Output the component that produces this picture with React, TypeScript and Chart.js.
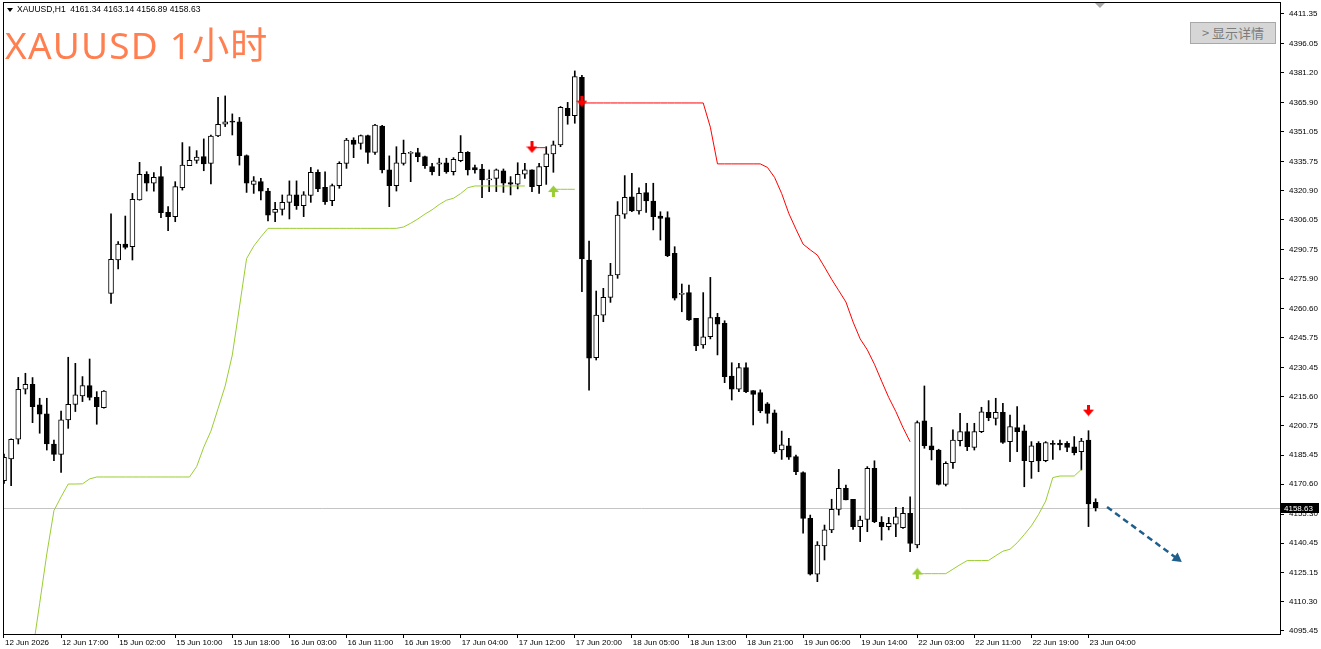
import React, { useEffect, useRef } from "react";
import Chart from "chart.js/auto";

// OHLC values per hourly bar
const opens = [
	4172.4, 4183.5, 4193.6, 4219.2, 4221.7, 4211.2, 4206.6, 4191.2, 4185.9, 4203.5,
	4211.5, 4215.8, 4221.1, 4215.1, 4209.8, 4268.3, 4285.4, 4293.6, 4292.2, 4316.2,
	4329.3, 4324.7, 4328.1, 4309.8, 4307.6, 4322.4, 4333.7, 4336.4, 4338.3, 4334.9,
	4348.9, 4354.9, 4356.2, 4356.2, 4338.8, 4324.1, 4325.5, 4320.7, 4309.8, 4311.3,
	4314.9, 4318.7, 4313.2, 4318.4, 4330.3, 4322.6, 4315.8, 4323.5, 4334.9, 4346.8,
	4345.1, 4349.1, 4340.5, 4354.0, 4331.5, 4323.5, 4334.9, 4340.0, 4340.4, 4338.3,
	4333.2, 4334.4, 4335.2, 4330.6, 4336.3, 4340.5, 4332.7, 4332.0, 4326.4, 4327.2,
	4331.0, 4325.0, 4324.2, 4329.3, 4331.5, 4323.5, 4333.2, 4339.7, 4344.3, 4363.1,
	4359.3, 4378.9, 4285.4, 4235.4, 4257.2, 4266.3, 4277.7, 4308.8, 4317.8, 4310.5,
	4319.9, 4315.6, 4307.9, 4307.1, 4288.8, 4267.8, 4268.7, 4255.5, 4241.9, 4246.1,
	4256.0, 4253.0, 4226.0, 4219.2, 4230.3, 4218.5, 4217.5, 4211.7, 4207.2, 4188.1,
	4190.2, 4184.7, 4176.5, 4153.1, 4124.6, 4139.0, 4147.2, 4157.7, 4168.5, 4162.9,
	4148.9, 4152.6, 4178.7, 4151.1, 4148.9, 4150.2, 4148.3, 4155.7, 4139.5, 4203.0,
	4190.3, 4188.1, 4170.5, 4181.6, 4192.9, 4197.5, 4189.5, 4197.5, 4207.4, 4204.3,
	4207.4, 4192.4, 4199.6, 4197.9, 4182.1, 4191.5, 4182.7, 4191.5, 4191.5, 4191.5,
	4189.8, 4187.3, 4193.2, 4161.34,
];
const highs = [
	4186.0, 4193.8, 4225.3, 4227.4, 4225.2, 4214.6, 4214.6, 4193.2, 4208.1, 4235.6,
	4232.5, 4225.7, 4234.7, 4218.0, 4218.6, 4309.0, 4294.8, 4307.9, 4319.5, 4335.4,
	4330.6, 4330.1, 4333.2, 4312.7, 4325.5, 4345.5, 4343.4, 4341.4, 4347.4, 4349.3,
	4368.7, 4369.4, 4360.2, 4358.4, 4339.2, 4328.1, 4327.2, 4322.1, 4314.9, 4318.7,
	4325.9, 4325.9, 4320.4, 4332.8, 4331.5, 4330.6, 4324.3, 4335.7, 4347.7, 4348.0,
	4349.4, 4349.4, 4354.9, 4354.4, 4338.7, 4343.4, 4346.8, 4340.9, 4342.6, 4338.6,
	4334.9, 4337.5, 4337.5, 4337.8, 4349.1, 4340.9, 4334.0, 4334.4, 4331.5, 4332.0,
	4332.0, 4328.1, 4335.2, 4334.9, 4331.5, 4334.9, 4343.4, 4346.3, 4364.0, 4366.1,
	4382.2, 4380.0, 4295.1, 4269.5, 4270.9, 4283.7, 4315.3, 4328.6, 4329.8, 4322.4,
	4324.7, 4324.7, 4310.1, 4310.1, 4292.2, 4273.1, 4272.6, 4255.5, 4268.7, 4276.5,
	4258.1, 4254.3, 4232.8, 4232.5, 4232.8, 4218.5, 4218.9, 4212.4, 4208.6, 4197.8,
	4194.1, 4185.5, 4177.0, 4154.8, 4141.2, 4149.7, 4162.9, 4178.2, 4170.2, 4162.9,
	4154.3, 4179.6, 4182.6, 4154.0, 4153.6, 4158.8, 4158.8, 4164.2, 4203.0, 4220.9,
	4199.7, 4188.5, 4182.1, 4198.4, 4206.9, 4201.8, 4201.8, 4210.0, 4213.4, 4214.6,
	4212.0, 4206.0, 4210.3, 4200.9, 4192.4, 4192.4, 4192.4, 4192.9, 4193.2, 4192.4,
	4195.0, 4194.1, 4198.0, 4163.14,
];
const lows = [
	4171.0, 4169.9, 4191.2, 4216.8, 4202.1, 4196.7, 4188.1, 4182.7, 4176.7, 4199.2,
	4207.8, 4212.9, 4213.7, 4201.3, 4209.5, 4263.2, 4280.8, 4291.0, 4285.4, 4316.0,
	4320.7, 4320.7, 4307.1, 4300.4, 4305.0, 4321.2, 4333.7, 4334.9, 4331.1, 4324.3,
	4348.5, 4353.7, 4349.4, 4334.0, 4320.0, 4319.5, 4316.1, 4305.4, 4305.0, 4308.4,
	4306.4, 4311.3, 4307.6, 4314.9, 4320.4, 4313.9, 4313.2, 4322.1, 4332.3, 4337.8,
	4342.1, 4334.9, 4339.5, 4330.0, 4312.7, 4320.7, 4334.0, 4325.5, 4335.7, 4332.3,
	4328.9, 4328.6, 4329.8, 4328.9, 4335.7, 4328.9, 4329.8, 4317.3, 4320.4, 4320.4,
	4320.0, 4318.7, 4321.8, 4327.2, 4320.4, 4319.5, 4324.1, 4330.3, 4343.4, 4354.9,
	4355.4, 4269.2, 4218.8, 4234.2, 4253.8, 4263.7, 4276.0, 4306.7, 4310.1, 4308.8,
	4309.8, 4300.8, 4295.6, 4287.1, 4264.9, 4258.9, 4254.4, 4239.0, 4240.2, 4245.0,
	4236.8, 4222.6, 4213.7, 4218.0, 4217.5, 4200.9, 4207.2, 4201.8, 4186.4, 4183.3,
	4183.3, 4175.5, 4145.5, 4124.1, 4120.7, 4131.8, 4145.8, 4154.8, 4162.5, 4147.5,
	4141.2, 4146.3, 4150.9, 4142.0, 4147.2, 4143.7, 4148.0, 4136.1, 4138.0, 4189.0,
	4183.0, 4170.2, 4169.7, 4178.7, 4190.2, 4187.8, 4188.1, 4197.0, 4203.1, 4200.9,
	4191.5, 4182.1, 4187.3, 4169.3, 4173.6, 4177.0, 4182.1, 4183.3, 4188.1, 4187.3,
	4185.6, 4177.9, 4148.9, 4156.89,
];
const closes = [
	4184.4, 4193.6, 4219.2, 4221.7, 4210.3, 4206.4, 4191.2, 4185.9, 4203.5, 4211.5,
	4216.3, 4221.1, 4215.1, 4210.3, 4218.3, 4285.7, 4293.6, 4291.9, 4316.5, 4329.3,
	4324.7, 4327.7, 4309.6, 4307.6, 4323.0, 4334.0, 4336.4, 4338.1, 4334.6, 4348.9,
	4354.9, 4356.2, 4356.0, 4338.8, 4324.7, 4325.9, 4320.7, 4308.4, 4311.3, 4314.9,
	4318.7, 4313.2, 4318.7, 4330.3, 4321.8, 4315.3, 4323.5, 4334.9, 4346.8, 4344.6,
	4349.1, 4340.5, 4354.5, 4331.5, 4323.5, 4335.2, 4340.0, 4340.0, 4338.3, 4333.7,
	4330.6, 4335.2, 4330.6, 4336.9, 4340.5, 4331.5, 4331.5, 4326.4, 4326.4, 4331.5,
	4324.7, 4324.2, 4329.3, 4331.5, 4322.9, 4333.2, 4339.7, 4344.3, 4363.6, 4359.3,
	4379.3, 4285.9, 4235.1, 4257.2, 4266.3, 4277.7, 4308.4, 4317.5, 4310.5, 4319.5,
	4315.6, 4307.6, 4306.7, 4287.6, 4265.8, 4267.8, 4254.7, 4241.4, 4246.1, 4255.9,
	4252.6, 4225.7, 4219.2, 4230.3, 4218.0, 4216.6, 4208.1, 4206.9, 4187.3, 4190.7,
	4184.4, 4177.0, 4153.1, 4124.6, 4139.5, 4147.2, 4157.7, 4168.5, 4162.5, 4148.9,
	4152.3, 4178.7, 4151.4, 4148.9, 4150.6, 4153.9, 4155.7, 4140.3, 4202.1, 4190.3,
	4188.1, 4170.5, 4181.3, 4193.2, 4197.5, 4189.8, 4197.5, 4207.7, 4204.7, 4207.4,
	4192.0, 4200.1, 4197.5, 4182.7, 4190.2, 4182.5, 4191.9, 4191.0, 4190.7, 4189.5,
	4186.7, 4192.7, 4160.5, 4158.63,
];

// time axis: one label every 8 bars
const xTickIdx = [0, 8, 16, 24, 32, 40, 48, 56, 64, 72, 80, 88, 96, 104, 112, 120, 128, 136, 144, 152];
const xTickLabels = [
	"12 Jun 2026", "12 Jun 17:00", "15 Jun 02:00", "15 Jun 10:00", "15 Jun 18:00",
	"16 Jun 03:00", "16 Jun 11:00", "16 Jun 19:00", "17 Jun 04:00", "17 Jun 12:00",
	"17 Jun 20:00", "18 Jun 05:00", "18 Jun 13:00", "18 Jun 21:00", "19 Jun 06:00",
	"19 Jun 14:00", "22 Jun 03:00", "22 Jun 11:00", "22 Jun 19:00", "23 Jun 04:00",
];
const yTickValues = [
	4411.35, 4396.05, 4381.2, 4365.9, 4351.05, 4335.75, 4320.9, 4306.05, 4290.75, 4275.9, 4260.6,
	4245.75, 4230.45, 4215.6, 4200.75, 4185.45, 4170.6, 4155.3, 4140.45, 4125.15, 4110.3, 4095.45,
];

// trailing stop line: green (long) and red (short) pieces, first bar index + values
const greenSegStarts = [4, 77, 128];
const greenSegValues = [
	[
		4084.7, 4109.6, 4134.9, 4157.1, 4164.1, 4170.7, 4170.7, 4170.8, 4173.3,
		4174.3, 4174.3, 4174.3, 4174.3, 4174.3, 4174.3, 4174.3, 4174.3, 4174.3, 4174.3, 4174.3, 4174.3, 4174.3, 4174.3,
		4179.6, 4189.6, 4197.8, 4209.3, 4220.9, 4236.8, 4261.3, 4286.1, 4292.5, 4297.2,
		4301.6, 4301.6, 4301.6, 4301.6, 4301.6, 4301.6, 4301.6, 4301.6, 4301.6, 4301.6,
		4301.6, 4301.6, 4301.6, 4301.6, 4301.6, 4301.6, 4301.6, 4301.6, 4301.6,
		4302.3, 4304.2, 4306.4, 4308.9, 4311.1, 4313.8, 4316.0, 4317.0, 4319.4, 4322.4,
		4323.3, 4323.3, 4323.3, 4323.3, 4323.3, 4323.3, 4323.3, 4323.3,
	],
	[4321.6, 4321.6, 4321.6, 4321.6],
	[
		4124.8, 4124.8, 4124.8, 4124.8, 4124.8, 4127.1, 4129.4, 4131.5, 4131.5, 4131.5,
		4131.6, 4134.0, 4136.3, 4137.3, 4140.6, 4144.8, 4149.3, 4155.1, 4162.0, 4174.0,
		4174.8, 4174.8, 4174.8, 4178.2,
	],
];
const redSegStarts = [74, 81];
const redSegValues = [
	[4342.9, 4342.9, 4342.9],
	[
		4365.8, 4365.8, 4365.8, 4365.8, 4365.8, 4365.8, 4365.8, 4365.8, 4365.8,
		4365.8, 4365.8, 4365.8, 4365.8, 4365.8, 4365.8, 4365.8, 4365.8, 4365.8,
		4353.4, 4334.6, 4334.6, 4334.6, 4334.6, 4334.6, 4334.6, 4334.6,
		4332.8, 4327.7, 4319.4, 4309.2, 4301.2, 4293.5, 4290.6, 4287.9, 4281.8, 4275.5,
		4269.7, 4263.9, 4253.7, 4245.0, 4239.4, 4232.0, 4223.4, 4215.0, 4207.8, 4199.6, 4192.3,
	],
];

// signal arrows
const redArrowIdx = [74, 81, 152];
const redArrowPrice = [4343.0, 4366.5, 4208.3];
const greenArrowIdx = [77, 128];
const greenArrowPrice = [4320.7, 4124.9];

// hand-drawn forecast arrow
const forecastIdx = [154.6, 164.4];
const forecastPrice = [4158.9, 4132.6];

const bidPrice = 4158.63;
const shiftIdx = 153.6;

const axisFont = { family: '"Liberation Sans", Arial, sans-serif', size: 8 };

function segPoints(starts: number[], values: number[][]) {
	const pts: { x: number; y: number | null }[] = [];
	starts.forEach((s, k) => {
		if (k > 0) pts.push({ x: s - 0.5, y: null });
		values[k].forEach((v, j) => pts.push({ x: s + j, y: v }));
	});
	return pts;
}

function makeArrow(color: string, down: boolean) {
	const c = document.createElement("canvas");
	c.width = 11;
	c.height = 12;
	const g = c.getContext("2d")!;
	if (!down) {
		g.translate(0, 12);
		g.scale(1, -1);
	}
	g.fillStyle = color;
	g.fillRect(4, 0, 3, 7);
	g.beginPath();
	g.moveTo(0, 5);
	g.lineTo(11, 5);
	g.lineTo(5.5, 11.5);
	g.closePath();
	g.fill();
	return c;
}

const mt4Overlay = {
	id: "mt4Overlay",
	beforeDatasetsDraw(chart: any) {
		const { ctx, chartArea: a } = chart;
		const y = Math.round(chart.scales.y.getPixelForValue(bidPrice)) + 0.5;
		ctx.save();
		ctx.strokeStyle = "#c4c4c4";
		ctx.lineWidth = 1;
		ctx.beginPath();
		ctx.moveTo(a.left, y);
		ctx.lineTo(a.right, y);
		ctx.stroke();
		ctx.restore();
	},
	afterDraw(chart: any) {
		const { ctx, chartArea: a } = chart;
		ctx.save();
		ctx.strokeStyle = "#000";
		ctx.lineWidth = 1;
		ctx.strokeRect(a.left + 0.5, a.top + 0.5, a.right - a.left, a.bottom - a.top);

		// current price tag on the price axis
		const y = Math.round(chart.scales.y.getPixelForValue(bidPrice));
		ctx.fillStyle = "#000";
		ctx.fillRect(a.right + 1, y - 5, 38, 10);
		ctx.fillStyle = "#fff";
		ctx.font = '8px "Liberation Sans", Arial, sans-serif';
		ctx.textBaseline = "middle";
		ctx.fillText(bidPrice.toFixed(2), a.right + 4, y + 0.5);

		// chart shift marker
		const sx = chart.scales.x.getPixelForValue(shiftIdx);
		ctx.fillStyle = "#a8a8a8";
		ctx.beginPath();
		ctx.moveTo(sx - 5, a.top + 1);
		ctx.lineTo(sx + 5, a.top + 1);
		ctx.lineTo(sx, a.top + 6);
		ctx.closePath();
		ctx.fill();
		ctx.restore();
	},
};

const App: React.FC = () => {
	const chartRef = useRef<HTMLCanvasElement>(null);
	const chartInstance = useRef<Chart | null>(null);

	useEffect(() => {
		if (!chartRef.current) return;
		if (chartInstance.current) chartInstance.current.destroy();
		const ctx = chartRef.current.getContext("2d");
		if (!ctx) return;

		const idx = opens.map((_, i) => i);
		const redArrow = makeArrow("#ff0000", true);
		const greenArrow = makeArrow("#9acd32", false);

		chartInstance.current = new Chart(ctx, {
			type: "bar",
			data: {
				datasets: [
					{
						type: "line",
						data: segPoints(greenSegStarts, greenSegValues),
						borderColor: "#9acd32",
						borderWidth: 1,
						pointRadius: 0,
						spanGaps: false,
						order: 0,
					} as any,
					{
						type: "line",
						data: segPoints(redSegStarts, redSegValues),
						borderColor: "#ff0000",
						borderWidth: 1,
						pointRadius: 0,
						spanGaps: false,
						order: 0,
					} as any,
					{
						type: "line",
						data: redArrowIdx.map((x, k) => ({ x, y: redArrowPrice[k] })),
						showLine: false,
						pointStyle: redArrow,
						order: -1,
					} as any,
					{
						type: "line",
						data: greenArrowIdx.map((x, k) => ({ x, y: greenArrowPrice[k] })),
						showLine: false,
						pointStyle: greenArrow,
						order: -1,
					} as any,
					{
						type: "line",
						data: forecastIdx.map((x, k) => ({ x, y: forecastPrice[k] })),
						borderColor: "#1f5f8b",
						borderWidth: 2.5,
						borderDash: [6, 4],
						pointStyle: "triangle",
						pointRadius: [0, 6],
						pointRotation: [0, 126],
						pointBackgroundColor: "#1f5f8b",
						pointBorderWidth: 0,
						order: -1,
					} as any,
					{
						type: "bar",
						data: idx.map((i) => ({ x: i, y: [opens[i], closes[i]] })),
						backgroundColor: idx.map((i) => (closes[i] >= opens[i] ? "#ffffff" : "#000000")),
						borderColor: "#000000",
						borderWidth: 1,
						borderSkipped: false,
						grouped: false,
						barPercentage: 1,
						categoryPercentage: 1,
						maxBarThickness: 5,
						minBarLength: 1,
						order: 1,
					} as any,
					{
						type: "bar",
						data: idx.map((i) => ({ x: i, y: [lows[i], highs[i]] })),
						backgroundColor: "#000000",
						borderWidth: 0,
						grouped: false,
						barPercentage: 1,
						categoryPercentage: 1,
						maxBarThickness: 1,
						order: 2,
					} as any,
				],
			},
			options: {
				responsive: true,
				maintainAspectRatio: false,
				animation: false,
				events: [],
				layout: { autoPadding: false, padding: { left: 3, top: 2, right: 0, bottom: 0 } },
				plugins: {
					legend: { display: false },
					tooltip: { enabled: false },
				},
				scales: {
					x: {
						type: "linear",
						min: -0.14,
						max: 178.84,
						offset: false,
						bounds: "data",
						afterBuildTicks: (s: any) => {
							s.ticks = xTickIdx.map((v) => ({ value: v }));
						},
						afterFit: (s: any) => {
							s.height = 15;
							s.paddingLeft = 0;
							s.paddingRight = 0;
						},
						grid: { drawOnChartArea: false, drawTicks: true, tickLength: 4, color: "#000", offset: false },
						border: { display: true, color: "#000" },
						ticks: {
							autoSkip: false,
							maxRotation: 0,
							minRotation: 0,
							align: "start",
							padding: 0,
							labelOffset: 1,
							color: "#000",
							font: axisFont,
							callback: (_v: any, i: number) => xTickLabels[i],
						},
					},
					y: {
						position: "right",
						min: 4093.91,
						max: 4417.49,
						bounds: "data",
						afterBuildTicks: (s: any) => {
							s.ticks = yTickValues.map((v) => ({ value: v }));
						},
						afterFit: (s: any) => {
							s.width = 41;
							s.paddingTop = 0;
							s.paddingBottom = 0;
						},
						grid: { drawOnChartArea: false, drawTicks: true, tickLength: 4, color: "#000" },
						border: { display: true, color: "#000" },
						ticks: {
							autoSkip: false,
							padding: 5,
							color: "#000",
							font: axisFont,
							callback: (v: any) => Number(v).toFixed(2),
						},
					},
				},
			} as any,
			plugins: [mt4Overlay],
		});

		return () => {
			if (chartInstance.current) {
				chartInstance.current.destroy();
				chartInstance.current = null;
			}
		};
	}, []);

	return (
		<div style={{ position: "fixed", left: 0, top: 0, width: 1321, height: 649, background: "#fff", overflow: "hidden" }}>
			<canvas ref={chartRef}></canvas>
			<div
				style={{
					position: "absolute",
					left: 7,
					top: 4,
					fontFamily: '"Liberation Sans", Arial, sans-serif',
					fontSize: 8.5,
					lineHeight: "10px",
					color: "#000",
					whiteSpace: "pre",
				}}
			>
				<span
					style={{
						display: "inline-block",
						width: 0,
						height: 0,
						borderLeft: "3px solid transparent",
						borderRight: "3px solid transparent",
						borderTop: "4px solid #000",
						marginRight: 4,
						verticalAlign: "middle",
					}}
				></span>
				{"XAUUSD,H1  4161.34 4163.14 4156.89 4158.63"}
			</div>
			<div
				style={{
					position: "absolute",
					left: 5,
					top: 26,
					fontFamily: '"Noto Sans", "Noto Sans CJK SC", sans-serif',
					fontSize: 37,
					lineHeight: "37px",
					letterSpacing: 1.2,
					color: "#ff7f50",
					whiteSpace: "nowrap",
				}}
			>
				XAUUSD 1小时
			</div>
			<div
				style={{
					position: "absolute",
					left: 1190,
					top: 22,
					width: 86,
					height: 22,
					boxSizing: "border-box",
					background: "#d6d6d6",
					border: "1px solid #a8a8a8",
					color: "#7c7c7c",
					fontFamily: '"Noto Sans CJK SC", sans-serif',
					fontSize: 13,
					lineHeight: "20px",
					textAlign: "center",
					whiteSpace: "nowrap",
				}}
			>
				&gt; 显示详情
			</div>
		</div>
	);
};

export default App;
